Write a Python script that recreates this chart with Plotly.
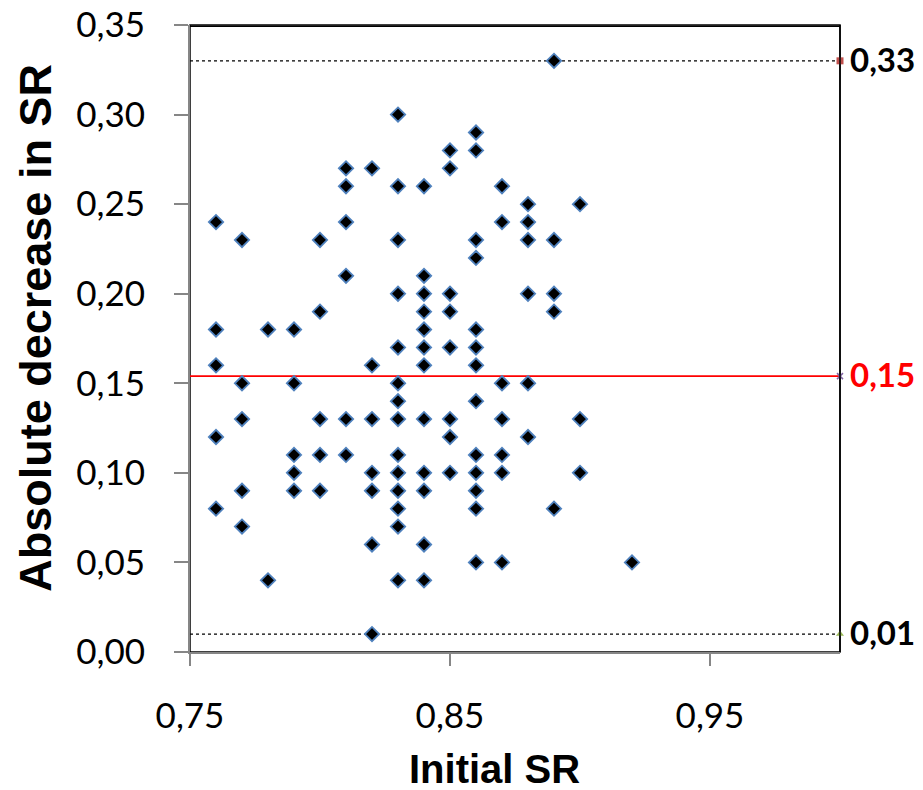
import plotly.graph_objects as go

# Data
initial_sr = (
    [0.76] * 5 + [0.77] * 5 + [0.78] * 2 + [0.79] * 5 + [0.80] * 5 + [0.81] * 6 +
    [0.82] * 7 + [0.83] * 14 + [0.84] * 12 + [0.85] * 8 + [0.86] * 13 + [0.87] * 7 +
    [0.88] * 6 + [0.89] * 5 + [0.90] * 3 + [0.92] * 1
)
abs_decrease = [
    0.24, 0.18, 0.16, 0.12, 0.08,
    0.23, 0.15, 0.13, 0.09, 0.07,
    0.18, 0.04,
    0.18, 0.15, 0.11, 0.10, 0.09,
    0.23, 0.19, 0.13, 0.11, 0.09,
    0.27, 0.26, 0.24, 0.21, 0.13, 0.11,
    0.27, 0.16, 0.13, 0.10, 0.09, 0.06, 0.01,
    0.30, 0.26, 0.23, 0.20, 0.17, 0.15, 0.14, 0.13, 0.11, 0.10, 0.09, 0.08, 0.07, 0.04,
    0.26, 0.21, 0.20, 0.19, 0.18, 0.17, 0.16, 0.13, 0.10, 0.09, 0.06, 0.04,
    0.28, 0.27, 0.20, 0.19, 0.17, 0.13, 0.12, 0.10,
    0.29, 0.28, 0.23, 0.22, 0.18, 0.17, 0.16, 0.14, 0.11, 0.10, 0.09, 0.08, 0.05,
    0.26, 0.24, 0.15, 0.13, 0.11, 0.10, 0.05,
    0.25, 0.24, 0.23, 0.20, 0.15, 0.12,
    0.33, 0.23, 0.20, 0.19, 0.08,
    0.25, 0.13, 0.10,
    0.05,
]
line_x = [0.75, 1.0]
max_value = 0.33
mean_value = 0.154
min_value = 0.01
ref_labels = ["0,33", "0,15", "0,01"]
x_ticks = [0.75, 0.85, 0.95]
x_tick_labels = ["0,75", "0,85", "0,95"]
y_ticks = [0.00, 0.05, 0.10, 0.15, 0.20, 0.25, 0.30, 0.35]
y_tick_labels = ["0,00", "0,05", "0,10", "0,15", "0,20", "0,25", "0,30", "0,35"]

TICK_FONT = "Lato, 'Open Sans', sans-serif"
TITLE_FONT = "'Liberation Sans', Arial, sans-serif"

fig = go.Figure()

# max dotted line
fig.add_trace(go.Scatter(
    x=line_x, y=[max_value, max_value], mode="lines",
    line=dict(color="black", width=1.3, dash="dot"), hoverinfo="skip", showlegend=False))
# min dotted line
fig.add_trace(go.Scatter(
    x=line_x, y=[min_value, min_value], mode="lines",
    line=dict(color="black", width=1.3, dash="dot"), hoverinfo="skip", showlegend=False))
# mean line
fig.add_trace(go.Scatter(
    x=line_x, y=[mean_value, mean_value], mode="lines",
    line=dict(color="#FF0000", width=1.6), hoverinfo="skip", showlegend=False))

# data points
fig.add_trace(go.Scatter(
    x=initial_sr, y=abs_decrease, mode="markers",
    marker=dict(symbol="diamond", size=11, color="black",
                line=dict(color="#4F81BD", width=1.8)),
    showlegend=False))

# end markers
fig.add_trace(go.Scatter(
    x=[line_x[1]], y=[max_value], mode="markers",
    marker=dict(symbol="square", size=7, color="#C0504D"), showlegend=False, cliponaxis=False))
fig.add_trace(go.Scatter(
    x=[line_x[1]], y=[mean_value], mode="markers",
    marker=dict(symbol="x-thin", size=6, color="#8064A2", line=dict(color="#8064A2", width=1.5)),
    showlegend=False, cliponaxis=False))
fig.add_trace(go.Scatter(
    x=[line_x[1]], y=[min_value], mode="markers",
    marker=dict(symbol="triangle-up", size=7, color="#9BBB59"), showlegend=False, cliponaxis=False))

# right-side labels
for val, txt, col in zip([max_value, mean_value, min_value], ref_labels, ["black", "#FF0000", "black"]):
    fig.add_annotation(
        x=1.0, y=val, xref="x", yref="y", text="<b>%s</b>" % txt, showarrow=False,
        xanchor="left", yanchor="middle", xshift=8, yshift=2,
        font=dict(family=TICK_FONT, size=33, color=col))

# axis titles
fig.add_annotation(
    x=0.469, y=-0.187, xref="paper", yref="paper", text="<b>Initial SR</b>",
    showarrow=False, xanchor="center", yanchor="middle",
    font=dict(family=TITLE_FONT, size=40, color="black"))
fig.add_annotation(
    x=-0.237, y=0.517, xref="paper", yref="paper", text="<b>Absolute decrease in SR</b>",
    showarrow=False, xanchor="center", yanchor="middle", textangle=-90,
    font=dict(family=TITLE_FONT, size=45, color="black"))

# black frame around the plot area (left/bottom get covered by the grey axis lines)
fig.add_shape(type="rect", xref="paper", yref="paper", x0=0, x1=1, y0=0, y1=1,
              line=dict(color="black", width=1.5), fillcolor="rgba(0,0,0,0)", layer="below")
fig.add_shape(type="line", xref="paper", yref="paper", x0=0, x1=1, y0=0.998, y1=0.998,
              line=dict(color="black", width=1.5), layer="above")
fig.add_shape(type="line", xref="paper", yref="paper", x0=1, x1=1, y0=0, y1=1,
              line=dict(color="black", width=1.5), layer="above")

fig.update_layout(
    xaxis=dict(
        range=[0.75, 1.0], tickvals=x_ticks, ticktext=x_tick_labels,
        showgrid=False, zeroline=False, showline=True, linecolor="#868686", linewidth=2,
        ticks="outside", ticklen=12, tickwidth=2, tickcolor="#868686",
        ticklabelstandoff=20, automargin=False, ticklabeloverflow="allow",
        tickfont=dict(family=TICK_FONT, size=35, color="black")),
    yaxis=dict(
        range=[0.0, 0.35], tickvals=y_ticks, ticktext=y_tick_labels,
        showgrid=False, zeroline=False, showline=True, linecolor="#868686", linewidth=2,
        ticks="outside", ticklen=14, tickwidth=2, tickcolor="#868686",
        ticklabelstandoff=22, automargin=False, ticklabeloverflow="allow",
        tickfont=dict(family=TICK_FONT, size=35, color="black")),
    width=923, height=790,
    margin=dict(l=190, r=83, t=25, b=138),
    plot_bgcolor="white", paper_bgcolor="white",
    showlegend=False,
)

# remove the default page margin so the figure fills the 923x790 window exactly
fig.write_html(
    "out.html",
    config={"displayModeBar": False},
    post_script="document.body.style.margin='0';document.body.style.overflow='hidden';",
)
